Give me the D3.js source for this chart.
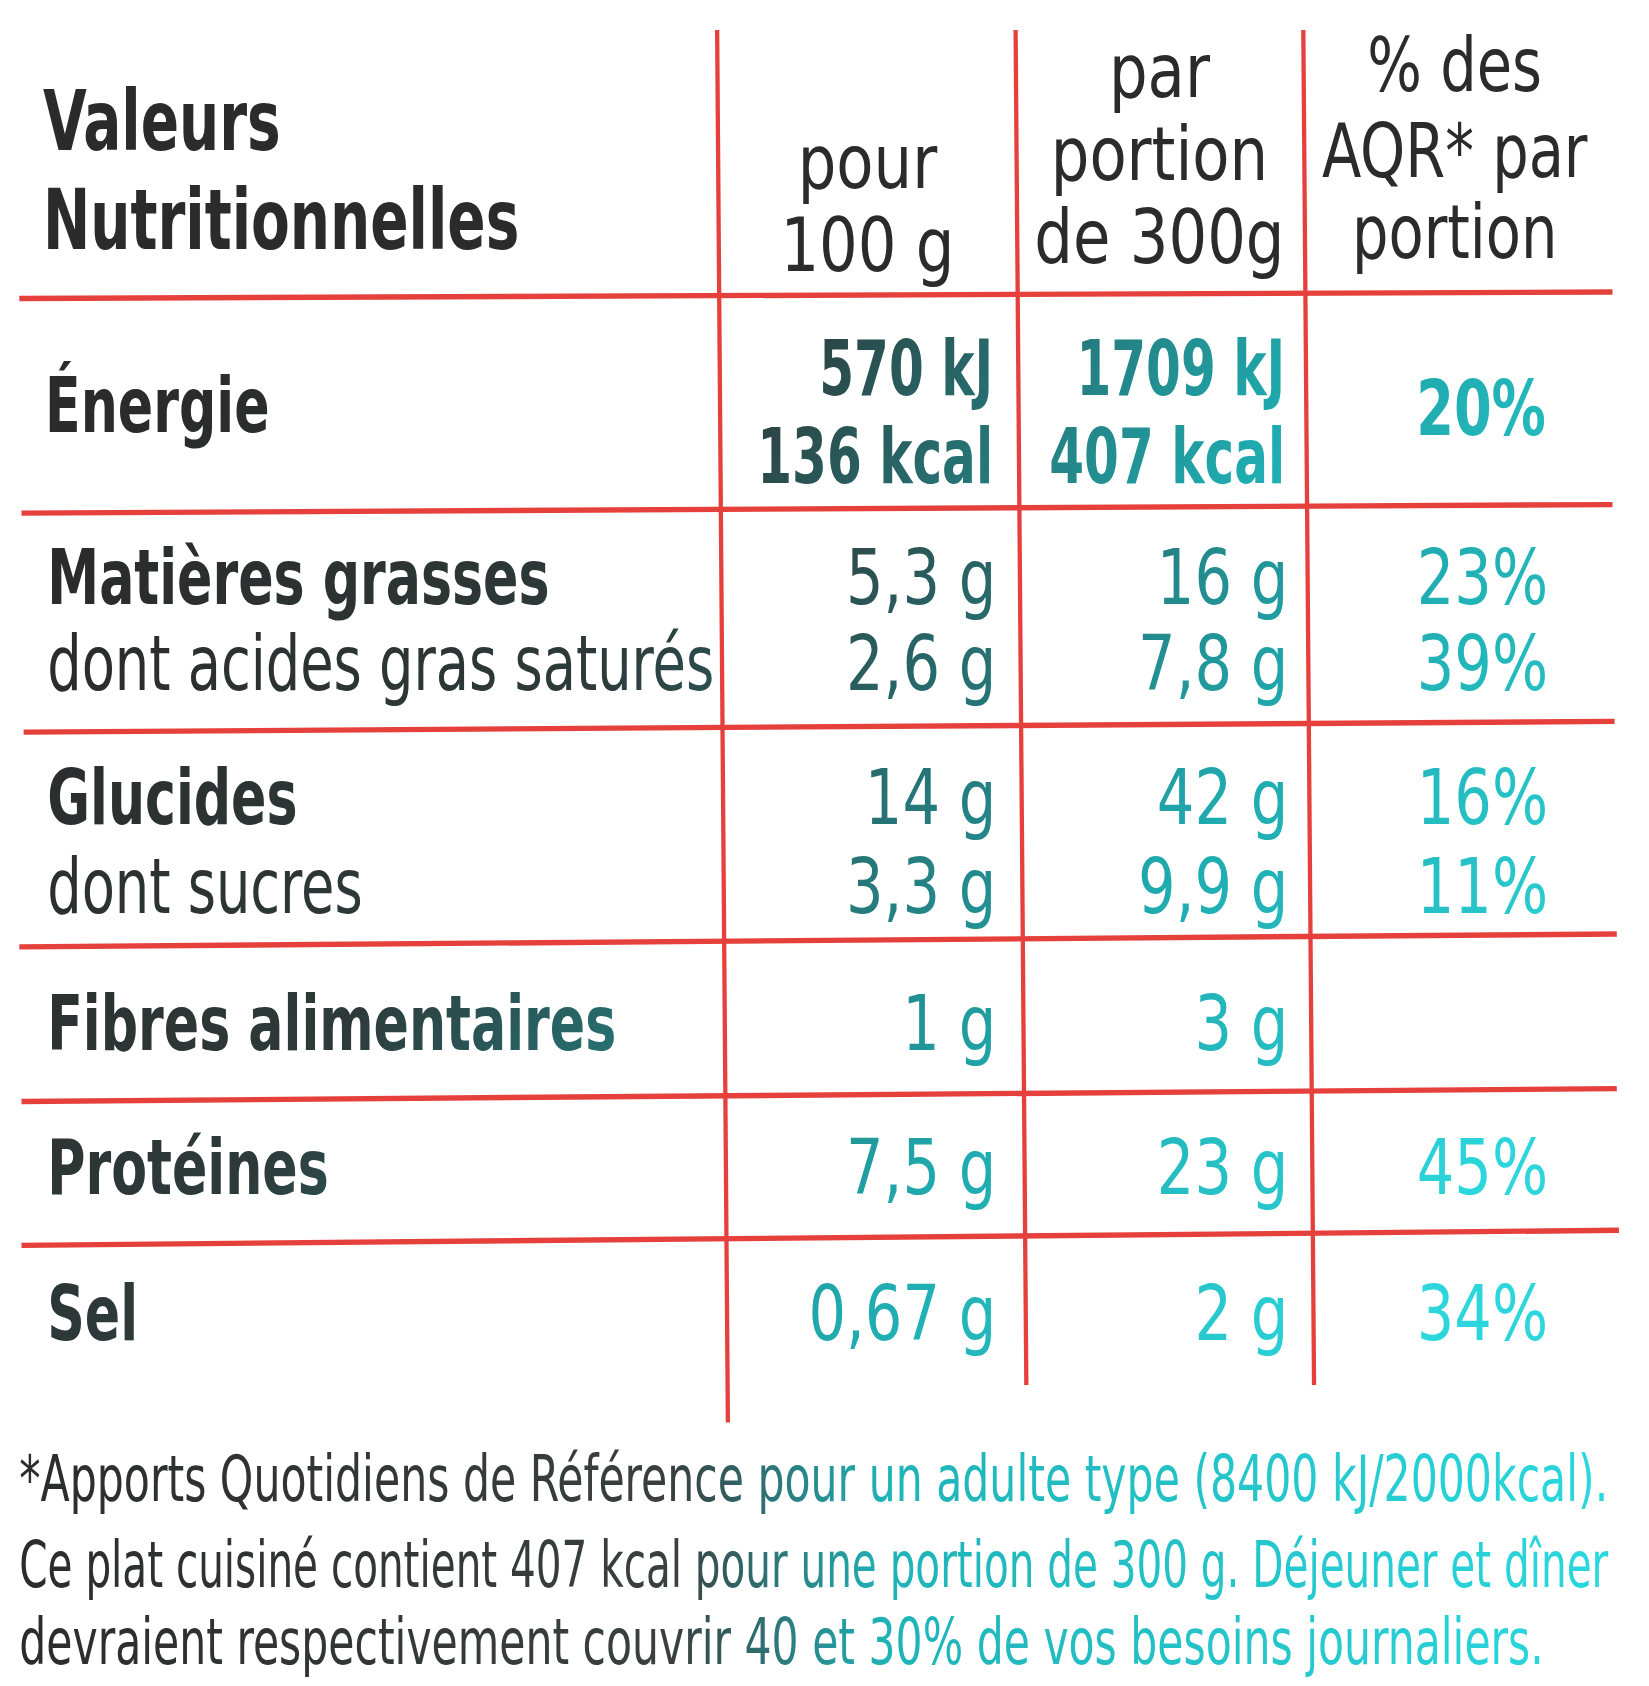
<!DOCTYPE html>
<html><head><meta charset="utf-8">
<script src="https://cdn.jsdelivr.net/npm/d3@7"></script>
<style>body{margin:0;background:#fff}</style></head>
<body><svg id="c" width="1649" height="1686"></svg>
<script>
const rowLabels = ["Énergie","Matières grasses","dont acides gras saturés","Glucides","dont sucres","Fibres alimentaires","Protéines","Sel"];
const per100 = [["570 kJ","136 kcal"],"5,3 g","2,6 g","14 g","3,3 g","1 g","7,5 g","0,67 g"];
const perPortion = [["1709 kJ","407 kcal"],"16 g","7,8 g","42 g","9,9 g","3 g","23 g","2 g"];
const pctAQR = ["20%","23%","39%","16%","11%","","45%","34%"];
const boldRow = [true,true,false,true,false,true,true,true];
const rowBaseline = [null,563,643,768,850,978,1112,1248];
const footnote = ["*Apports Quotidiens de Référence pour un adulte type (8400 kJ/2000kcal).",
 "Ce plat cuisiné contient 407 kcal pour une portion de 300 g. Déjeuner et dîner",
 "devraient respectivement couvrir 40 et 30% de vos besoins journaliers."];

const svg = d3.select("#c");
const defs = svg.append("defs");
const g0 = defs.append("linearGradient").attr("id","tg").attr("gradientUnits","userSpaceOnUse")
  .attr("x1",300).attr("y1",300).attr("x2",1450).attr("y2",1300);
g0.append("stop").attr("offset","0").attr("stop-color","#2b2b2b");
g0.append("stop").attr("offset","0.35").attr("stop-color","#2e3a3a");
g0.append("stop").attr("offset","0.7").attr("stop-color","#1fa9ad");
g0.append("stop").attr("offset","1").attr("stop-color","#2cd6dc");
const g1 = defs.append("linearGradient").attr("id","fg").attr("gradientUnits","userSpaceOnUse")
  .attr("x1",0).attr("y1",0).attr("x2",1500).attr("y2",0);
g1.append("stop").attr("offset","0").attr("stop-color","#2b2b2b");
g1.append("stop").attr("offset","0.42").attr("stop-color","#3a4040");
g1.append("stop").attr("offset","0.55").attr("stop-color","#1fb3b8");
g1.append("stop").attr("offset","1").attr("stop-color","#2ad8df");

const s = 1649/1536;
const g = svg.append("g").attr("transform",`scale(${s})`);
const font = "'DejaVu Sans Condensed','DejaVu Sans',sans-serif";
const red = "#e6403c";

const hLines = [[18,278,1502,272],[20,478,1502,470],[22,682,1504,672],[18,882,1506,870],[20,1026,1506,1014],[20,1160,1508,1146]];
hLines.forEach(l=>g.append("line").attr("x1",l[0]).attr("y1",l[1]).attr("x2",l[2]).attr("y2",l[3]).attr("stroke",red).attr("stroke-width",5));
const vLines = [[668,28,678,1325],[946,28,956,1290],[1214,28,1224,1290]];
vLines.forEach(l=>g.append("line").attr("x1",l[0]).attr("y1",l[1]).attr("x2",l[2]).attr("y2",l[3]).attr("stroke",red).attr("stroke-width",4));

function txt(t,x,y,opt={}){
  const sx = opt.sx||0.82;
  return g.append("text").attr("x",x/sx).attr("y",y).text(t)
   .attr("transform",`scale(${sx},1)`)
   .attr("font-family",font).attr("font-size",opt.size||72)
   .attr("font-weight",opt.bold?"bold":"normal")
   .attr("text-anchor",opt.anchor||"start")
   .attr("fill",opt.fill||"url(#tg)");
}
txt("Valeurs",40,140,{bold:true,size:78,fill:"#2b2b2b",sx:0.75});
txt("Nutritionnelles",40,232,{bold:true,size:78,fill:"#2b2b2b",sx:0.75});
txt("pour",808,175,{anchor:"middle",size:70,fill:"#2b2b2b",sx:0.9});
txt("100 g",808,252,{anchor:"middle",size:70,fill:"#2b2b2b",sx:0.9});
[["par",90],["portion",168],["de 300g",245]].forEach(d=>txt(d[0],1080,d[1],{anchor:"middle",size:70,fill:"#2b2b2b",sx:0.9}));
[["% des",85],["AQR* par",165],["portion",240]].forEach(d=>txt(d[0],1355,d[1],{anchor:"middle",size:70,fill:"#2b2b2b",sx:0.85}));

txt(rowLabels[0],42,402,{bold:true,size:72,sx:0.75});
txt(per100[0][0],925,368,{anchor:"end",bold:true,size:72,sx:0.72});
txt(per100[0][1],925,450,{anchor:"end",bold:true,size:72,sx:0.72});
txt(perPortion[0][0],1197,368,{anchor:"end",bold:true,size:72,sx:0.72});
txt(perPortion[0][1],1197,450,{anchor:"end",bold:true,size:72,sx:0.72});
txt(pctAQR[0],1440,405,{anchor:"end",bold:true,size:72,sx:0.78});

for(let i=1;i<rowLabels.length;i++){
  const y=rowBaseline[i];
  txt(rowLabels[i],44,y,{bold:boldRow[i],size:72,sx:boldRow[i]?0.75:0.78});
  txt(per100[i],928,y,{anchor:"end",size:72,sx:0.85});
  txt(perPortion[i],1200,y,{anchor:"end",size:72,sx:0.85});
  if(pctAQR[i]) txt(pctAQR[i],1442,y,{anchor:"end",size:72,sx:0.85});
}
const fy=[1398,1478,1550], fw=[1480,1480,1420];
footnote.forEach((t,i)=>txt(t,18,fy[i],{size:60,fill:"url(#fg)",sx:1}).attr("textLength",fw[i]).attr("lengthAdjust","spacingAndGlyphs"));
</script></body></html>
